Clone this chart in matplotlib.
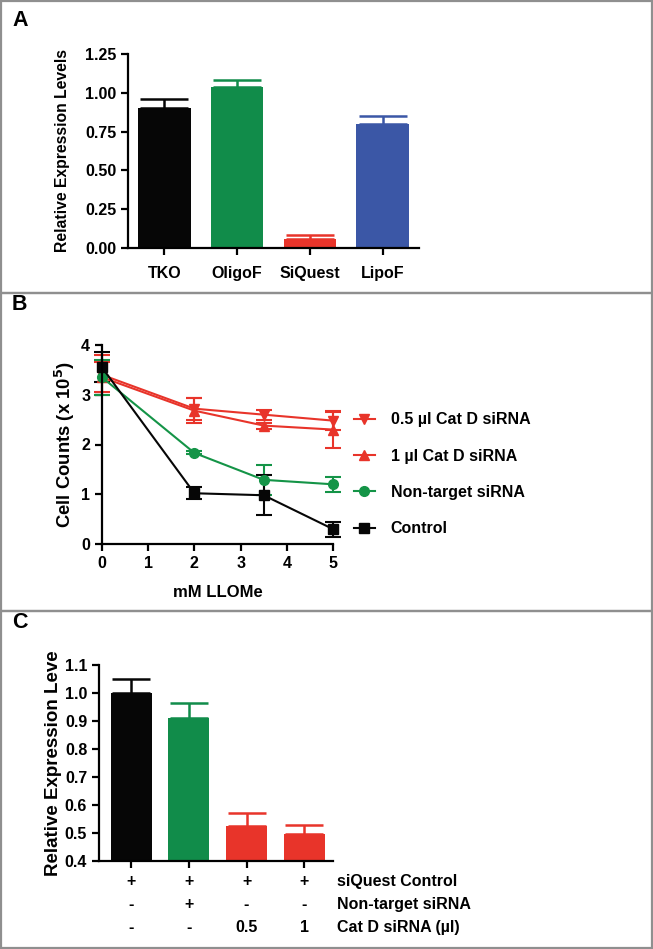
import matplotlib
matplotlib.use("Agg")
import matplotlib.pyplot as plt
from matplotlib.patches import Rectangle
from matplotlib.lines import Line2D

plt.rcParams['font.family'] = ['Liberation Sans', 'DejaVu Sans']
plt.rcParams['font.weight'] = 'bold'

# ---------------- data ----------------
a_categories = ["TKO", "OligoF", "SiQuest", "LipoF"]
a_values = [0.90, 1.04, 0.06, 0.80]
a_errors = [0.06, 0.04, 0.025, 0.05]
a_colors = ["#060606", "#118c4a", "#e8342a", "#3b57a6"]
a_yticks = [0.00, 0.25, 0.50, 0.75, 1.00, 1.25]

b_x = [0, 2, 3.5, 5]
b_series = ["0.5 µl Cat D siRNA", "1 µl Cat D siRNA", "Non-target siRNA", "Control"]
b_half = [3.40, 2.72, 2.60, 2.48]
b_half_err = [0.40, 0.22, 0.10, 0.18]
b_one = [3.35, 2.68, 2.38, 2.30]
b_one_err = [0.30, 0.25, 0.06, 0.38]
b_nontarget = [3.35, 1.83, 1.29, 1.20]
b_nontarget_err = [0.35, 0.03, 0.30, 0.15]
b_control = [3.55, 1.02, 0.98, 0.30]
b_control_err = [0.30, 0.12, 0.40, 0.15]

c_values = [1.00, 0.91, 0.525, 0.495]
c_errors = [0.05, 0.055, 0.045, 0.035]
c_colors = ["#060606", "#118c4a", "#e8342a", "#e8342a"]
c_yticks = [0.4, 0.5, 0.6, 0.7, 0.8, 0.9, 1.0, 1.1]
c_row_labels = ["siQuest Control", "Non-target siRNA", "Cat D siRNA (µl)"]
c_table = [["+", "+", "+", "+"],
           ["-", "+", "-", "-"],
           ["-", "-", "0.5", "1"]]

# ---------------- figure ----------------
W, H = 653, 949
fig = plt.figure(figsize=(W / 100, H / 100), dpi=100)

def ax_px(l, r, t, b):
    return fig.add_axes([l / W, 1 - b / H, (r - l) / W, (b - t) / H])

# panel borders
for (t, b) in [(1, 293), (293, 611), (611, 948)]:
    fig.patches.append(Rectangle((1 / W, 1 - b / H), (W - 2) / W, (b - t) / H,
                                 transform=fig.transFigure, fill=False,
                                 edgecolor="#8f8f8f", linewidth=1.6))

for lab, y in [("A", 21), ("B", 304), ("C", 622)]:
    fig.text(12 / W, 1 - y / H, lab, fontsize=15.5, fontweight='bold', va='center', ha='left')

TICK = 11.5

def style(ax):
    for s in ['top', 'right']:
        ax.spines[s].set_visible(False)
    for s in ['left', 'bottom']:
        ax.spines[s].set_linewidth(1.6)
    ax.tick_params(width=1.6, length=5, labelsize=TICK, direction='out')
    for lbl in ax.get_xticklabels() + ax.get_yticklabels():
        lbl.set_fontweight('bold')

# ---------------- panel A ----------------
axA = ax_px(128, 419, 54, 248)
xa = range(len(a_categories))
axA.bar(xa, a_values, width=0.72, color=a_colors, zorder=2)
for i in xa:
    axA.errorbar(i, a_values[i], yerr=[[0], [a_errors[i]]], color=a_colors[i],
                 capsize=17, capthick=1.8, elinewidth=1.8, zorder=1)
axA.set_xlim(-0.5, 3.5)
axA.set_ylim(0, 1.25)
axA.set_yticks(a_yticks)
axA.set_yticklabels([f"{v:.2f}" for v in a_yticks])
axA.set_xticks(list(xa))
axA.set_xticklabels(a_categories)
axA.set_ylabel("Relative Expression Levels", fontsize=11.3, fontweight='bold', labelpad=11)
style(axA)
axA.tick_params(axis='x', pad=8)

# ---------------- panel B ----------------
axB = ax_px(102, 333, 345, 544)
red = "#e8342a"
green = "#149447"
specs = [
    (b_half, b_half_err, red, 'v', b_series[0]),
    (b_one, b_one_err, red, '^', b_series[1]),
    (b_nontarget, b_nontarget_err, green, 'o', b_series[2]),
    (b_control, b_control_err, "#060606", 's', b_series[3]),
]
handles = []
for vals, errs, col, mk, name in specs:
    axB.errorbar(b_x, vals, yerr=errs, color=col, marker=mk, markersize=7,
                 linewidth=1.5, elinewidth=1.5, capsize=6, capthick=1.5, clip_on=False)
    handles.append(Line2D([], [], color=col, marker=mk, markersize=7, linewidth=1.5))
axB.set_xlim(0, 5)
axB.set_ylim(0, 4)
axB.set_xticks([0, 1, 2, 3, 4, 5])
axB.set_yticks([0, 1, 2, 3, 4])
axB.set_xlabel("mM LLOMe", fontsize=12, fontweight='bold', labelpad=10)
axB.set_ylabel(r"Cell Counts (x 10$^{\mathbf{5}}$)", fontsize=13.3, fontweight='bold', labelpad=3)
style(axB)
leg = axB.legend(handles, b_series, loc='center left', bbox_to_anchor=(1.09, 0.35),
                 frameon=False, fontsize=11.5, borderpad=0, borderaxespad=0,
                 handlelength=1.3, handletextpad=1.0, labelspacing=1.33)
for t in leg.get_texts():
    t.set_fontweight('bold')

# ---------------- panel C ----------------
axC = ax_px(99, 333, 665, 861)
xc = range(len(c_values))
axC.bar(xc, c_values, width=0.71, color=c_colors, zorder=2)
for i in xc:
    axC.errorbar(i, c_values[i], yerr=[[0], [c_errors[i]]], color=c_colors[i],
                 capsize=14, capthick=1.8, elinewidth=1.8, zorder=1)
axC.set_xlim(-0.56, 3.5)
axC.set_ylim(0.4, 1.1)
axC.set_yticks(c_yticks)
axC.set_yticklabels([f"{v:.1f}" for v in c_yticks])
axC.set_xticks(list(xc))
axC.set_xticklabels([])
axC.set_ylabel("Relative Expression Leve", fontsize=13.5, fontweight='bold', labelpad=2)
style(axC)
row_y = [-0.107, -0.224, -0.337]
for r, row in enumerate(c_table):
    for i, s in enumerate(row):
        axC.text(i, row_y[r], s, transform=axC.get_xaxis_transform(), ha='center',
                 va='center', fontsize=11.5, fontweight='bold')
    axC.text(1.017, row_y[r], c_row_labels[r], transform=axC.transAxes, ha='left',
             va='center', fontsize=11.5, fontweight='bold')

fig.savefig("out.png", dpi=100)
